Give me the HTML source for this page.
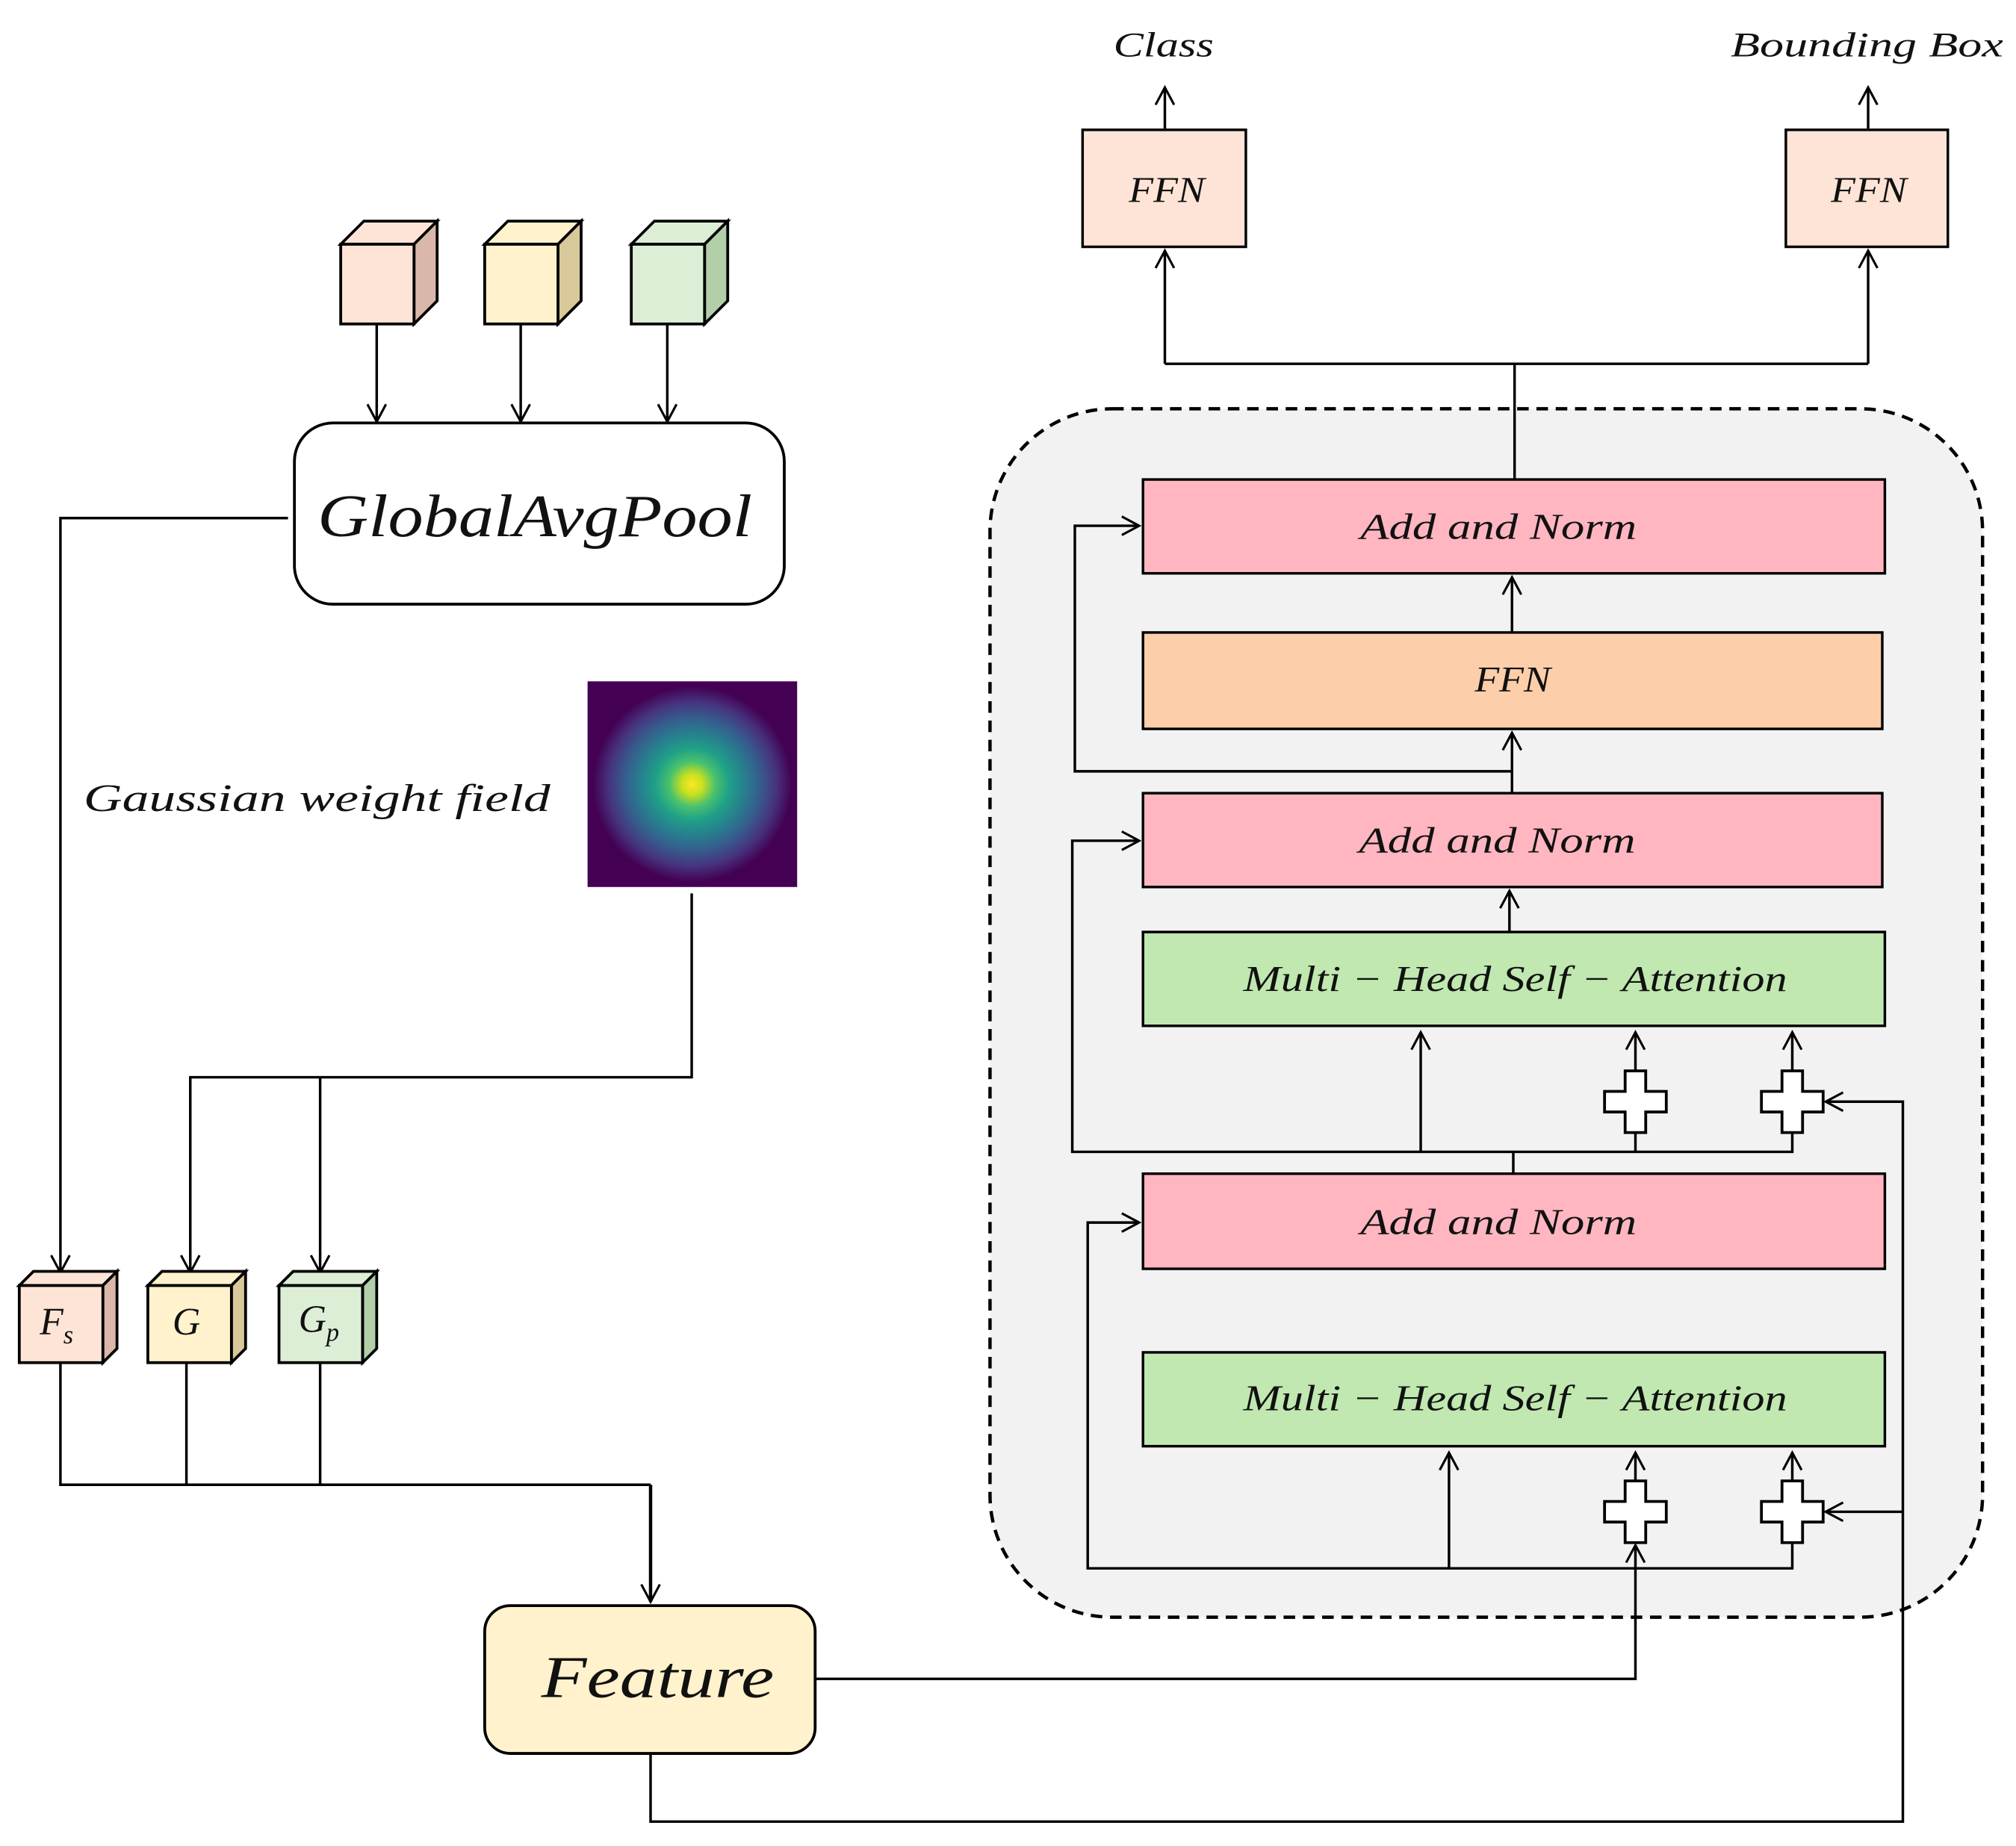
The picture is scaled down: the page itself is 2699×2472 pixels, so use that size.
<!DOCTYPE html>
<html><head><meta charset="utf-8"><style>html,body{margin:0;padding:0;background:#fff}svg{display:block}</style></head><body>
<svg width="2699" height="2472" viewBox="0 0 1568 1436" preserveAspectRatio="none" xmlns="http://www.w3.org/2000/svg" font-family="'Liberation Serif',serif" font-style="italic">
<defs>
<marker id="a" viewBox="0 0 20 20" refX="18" refY="10" markerWidth="18" markerHeight="18" markerUnits="userSpaceOnUse" orient="auto"><path d="M3,2 L18,10 L3,18" fill="none" stroke="#000" stroke-width="2"/></marker>
<radialGradient id="g" cx="50%" cy="50%" r="50%">
<stop offset="0" stop-color="#fde725"/><stop offset="0.1" stop-color="#c8e020"/><stop offset="0.22" stop-color="#4ac16d"/><stop offset="0.35" stop-color="#1fa187"/><stop offset="0.5" stop-color="#277f8e"/><stop offset="0.65" stop-color="#365c8d"/><stop offset="0.8" stop-color="#46337e"/><stop offset="0.95" stop-color="#440154"/><stop offset="1" stop-color="#440154"/></radialGradient>
</defs>
<g stroke="#000" stroke-width="2" fill="none">
<g stroke-width="2.2">
<path d="M265,190 L283,172 L340,172 L322,190 Z" fill="#fde4d6"/><path d="M322,190 L340,172 L340,234 L322,252 Z" fill="#d9b8aa"/><rect x="265" y="190" width="57" height="62" fill="#fde4d6"/>
<path d="M377,190 L395,172 L452,172 L434,190 Z" fill="#fff2cc"/><path d="M434,190 L452,172 L452,234 L434,252 Z" fill="#d9c99a"/><rect x="377" y="190" width="57" height="62" fill="#fff2cc"/>
<path d="M491,190 L509,172 L566,172 L548,190 Z" fill="#dcefd6"/><path d="M548,190 L566,172 L566,234 L548,252 Z" fill="#b3cfaa"/><rect x="491" y="190" width="57" height="62" fill="#dcefd6"/>
</g>
<line x1="293" y1="252" x2="293" y2="328" marker-end="url(#a)"/>
<line x1="405" y1="252" x2="405" y2="328" marker-end="url(#a)"/>
<line x1="519" y1="252" x2="519" y2="328" marker-end="url(#a)"/>
<rect x="229" y="329" width="381" height="141" rx="30" fill="#fff" stroke-width="2.2"/>
<polyline points="224,403 47,403 47,990" marker-end="url(#a)"/>
<rect x="457" y="530" width="163" height="160" fill="url(#g)" stroke="none"/>
<polyline points="538,695 538,838 148,838 148,990" marker-end="url(#a)"/>
<line x1="249" y1="838" x2="249" y2="990" marker-end="url(#a)"/>
<g stroke-width="2.2">
<path d="M15,1000 L26,989 L91,989 L80,1000 Z" fill="#fde4d6"/><path d="M80,1000 L91,989 L91,1049 L80,1060 Z" fill="#d9b8aa"/><rect x="15" y="1000" width="65" height="60" fill="#fde4d6"/>
<path d="M115,1000 L126,989 L191,989 L180,1000 Z" fill="#fff2cc"/><path d="M180,1000 L191,989 L191,1049 L180,1060 Z" fill="#d9c99a"/><rect x="115" y="1000" width="65" height="60" fill="#fff2cc"/>
<path d="M217,1000 L228,989 L293,989 L282,1000 Z" fill="#dcefd6"/><path d="M282,1000 L293,989 L293,1049 L282,1060 Z" fill="#b3cfaa"/><rect x="217" y="1000" width="65" height="60" fill="#dcefd6"/>
</g>
<polyline points="47,1060 47,1155 506,1155"/>
<line x1="145" y1="1060" x2="145" y2="1155"/>
<line x1="249" y1="1060" x2="249" y2="1155"/>
<line x1="506" y1="1155" x2="506" y2="1246" stroke-width="2.6" marker-end="url(#a)"/>
<rect x="377" y="1249" width="257" height="115" rx="20" fill="#fff2cc" stroke-width="2.2"/>
<rect x="770" y="318" width="772" height="940" rx="95" fill="#f2f2f2" stroke-width="2.6" stroke-dasharray="9,6"/>
<rect x="842" y="101" width="127" height="91" fill="#fde4d6"/>
<rect x="1389" y="101" width="126" height="91" fill="#fde4d6"/>
<line x1="906" y1="100" x2="906" y2="68" marker-end="url(#a)"/>
<line x1="1453" y1="100" x2="1453" y2="68" marker-end="url(#a)"/>
<polyline points="1178,373 1178,283"/>
<polyline points="906,283 1453,283"/>
<line x1="906" y1="283" x2="906" y2="195" marker-end="url(#a)"/>
<line x1="1453" y1="283" x2="1453" y2="195" marker-end="url(#a)"/>
<rect x="889" y="373" width="577" height="73" fill="#ffb6c1"/>
<rect x="889" y="492" width="575" height="75" fill="#fdceaa"/>
<rect x="889" y="617" width="575" height="73" fill="#ffb6c1"/>
<rect x="889" y="725" width="577" height="73" fill="#c0e8b0"/>
<rect x="889" y="913" width="577" height="74" fill="#ffb6c1"/>
<rect x="889" y="1052" width="577" height="73" fill="#c0e8b0"/>
<line x1="1176" y1="492" x2="1176" y2="449" marker-end="url(#a)"/>
<line x1="1176" y1="617" x2="1176" y2="570" marker-end="url(#a)"/>
<line x1="1174" y1="725" x2="1174" y2="693" marker-end="url(#a)"/>
<polyline points="1176,600 836,600 836,409 886,409" marker-end="url(#a)"/>
<line x1="1177" y1="913" x2="1177" y2="896"/>
<polyline points="1394,881 1394,896 834,896 834,654 886,654" marker-end="url(#a)"/>
<line x1="1105" y1="896" x2="1105" y2="803" marker-end="url(#a)"/>
<line x1="1272" y1="896" x2="1272" y2="881"/>
<line x1="1272" y1="833" x2="1272" y2="803" marker-end="url(#a)"/>
<line x1="1394" y1="833" x2="1394" y2="803" marker-end="url(#a)"/>
<polyline points="1394,1200 1394,1220 846,1220 846,951 886,951" marker-end="url(#a)"/>
<line x1="1127" y1="1220" x2="1127" y2="1130" marker-end="url(#a)"/>
<line x1="1272" y1="1152" x2="1272" y2="1130" marker-end="url(#a)"/>
<line x1="1394" y1="1152" x2="1394" y2="1130" marker-end="url(#a)"/>
<polyline points="634,1306 1272,1306 1272,1202" marker-end="url(#a)"/>
<polyline points="506,1364 506,1417 1480,1417 1480,857 1420,857" marker-end="url(#a)"/>
<line x1="1480" y1="1176" x2="1420" y2="1176" marker-end="url(#a)"/>
<g fill="#fff" stroke-width="2.2">
<path d="M1264,833 h16 v16 h16 v16 h-16 v16 h-16 v-16 h-16 v-16 h16 Z"/>
<path d="M1386,833 h16 v16 h16 v16 h-16 v16 h-16 v-16 h-16 v-16 h16 Z"/>
<path d="M1264,1152 h16 v16 h16 v16 h-16 v16 h-16 v-16 h-16 v-16 h16 Z"/>
<path d="M1386,1152 h16 v16 h16 v16 h-16 v16 h-16 v-16 h-16 v-16 h16 Z"/>
</g>
</g>
<g fill="#111">
<text x="866" y="44" font-size="27" textLength="78" lengthAdjust="spacingAndGlyphs">Class</text>
<text x="1346" y="44" font-size="27" textLength="212" lengthAdjust="spacingAndGlyphs">Bounding Box</text>
<text x="878" y="157" font-size="28" textLength="59" lengthAdjust="spacingAndGlyphs">FFN</text>
<text x="1424" y="157" font-size="28" textLength="59" lengthAdjust="spacingAndGlyphs">FFN</text>
<text x="247" y="417" font-size="47" textLength="338" lengthAdjust="spacingAndGlyphs">GlobalAvgPool</text>
<text x="65" y="631" font-size="30" textLength="363" lengthAdjust="spacingAndGlyphs">Gaussian weight field</text>
<text x="1058" y="419" font-size="28" textLength="215" lengthAdjust="spacingAndGlyphs">Add  and  Norm</text>
<text x="1147" y="538" font-size="28" textLength="59" lengthAdjust="spacingAndGlyphs">FFN</text>
<text x="1057" y="663" font-size="28" textLength="215" lengthAdjust="spacingAndGlyphs">Add  and  Norm</text>
<text x="967" y="771" font-size="28" textLength="423" lengthAdjust="spacingAndGlyphs">Multi − Head Self − Attention</text>
<text x="1058" y="960" font-size="28" textLength="215" lengthAdjust="spacingAndGlyphs">Add  and  Norm</text>
<text x="967" y="1097" font-size="28" textLength="423" lengthAdjust="spacingAndGlyphs">Multi − Head Self − Attention</text>
<text x="421" y="1320" font-size="46" textLength="181" lengthAdjust="spacingAndGlyphs">Feature</text>
<g text-anchor="middle">
<text x="44" y="1038" font-size="30">F<tspan font-size="20" dy="7">s</tspan></text>
<text x="145" y="1038" font-size="30">G</text>
<text x="248" y="1036" font-size="30">G<tspan font-size="20" dy="7">p</tspan></text>
</g>
</g>
</svg>
</body></html>
